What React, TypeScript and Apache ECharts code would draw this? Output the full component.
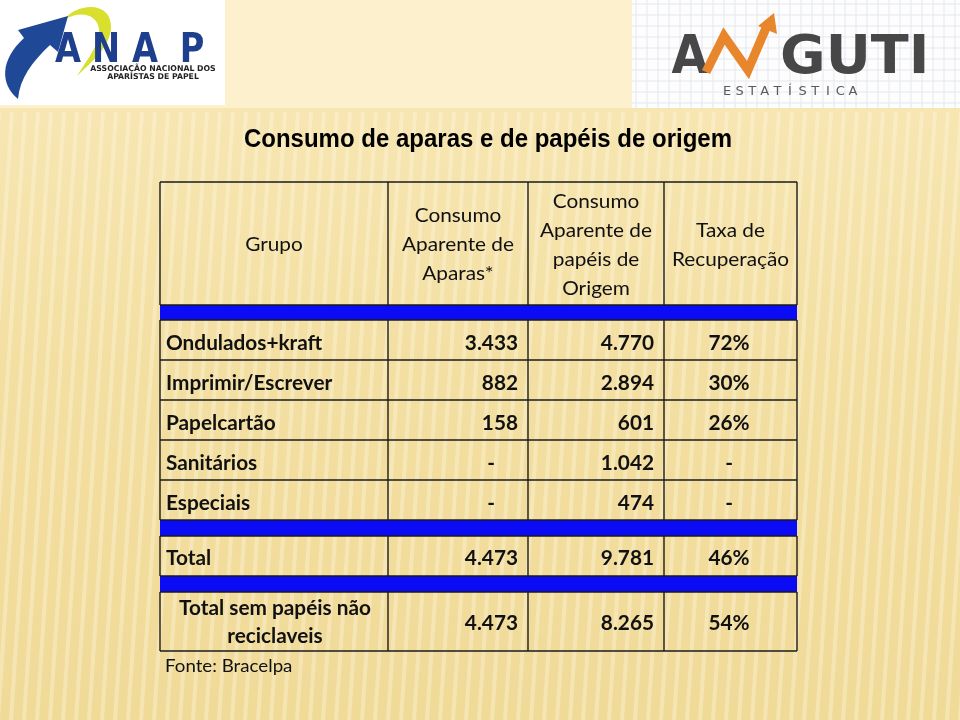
import React, { useEffect, useRef } from "react";
import * as echarts from "echarts";

// ---------- data ----------
const title = "Consumo de aparas e de papéis de origem";
const headers: string[][] = [
  ["Grupo"],
  ["Consumo", "Aparente de", "Aparas*"],
  ["Consumo", "Aparente de", "papéis de", "Origem"],
  ["Taxa de", "Recuperação"],
];
const groups = ["Ondulados+kraft", "Imprimir/Escrever", "Papelcartão", "Sanitários", "Especiais"];
const aparas: (number | null)[] = [3433, 882, 158, null, null];
const origem: (number | null)[] = [4770, 2894, 601, 1042, 474];
const taxa: (number | null)[] = [72, 30, 26, null, null];
const totalLabel = "Total";
const totalValues = [4473, 9781, 46];
const semLabel = ["Total sem papéis não", "reciclaveis"];
const semValues = [4473, 8265, 54];
const source = "Fonte: Bracelpa";
const anapLetters = ["A", "N", "A", "P"];
const anapSub = ["ASSOCIAÇÃO NACIONAL DOS", "APARISTAS DE PAPEL"];
const angutiWord = "GUTI";
const angutiSub = "ESTATÍSTICA";

// ---------- shapes ----------
echarts.graphic.registerShape(
  "anapBlue",
  echarts.graphic.extendPath(
    "M 18 99 C 0 84, 0 60, 24 38 L 18 30 L 68 16 L 58 52 L 50 45 C 32 62, 20 78, 18 99 Z",
    {}
  )
);
echarts.graphic.registerShape(
  "anapYellow",
  echarts.graphic.extendPath(
    "M 64 20 C 76 3, 112 0, 111 28 C 110 46, 93 61, 77 76 C 88 58, 101 43, 99 29 C 97 14, 80 10, 64 20 Z",
    {}
  )
);

const fmt = (n: number | null) =>
  n == null ? "-" : String(n).replace(/\B(?=(\d{3})+(?!\d))/g, ".");

function txt(
  text: string,
  x: number,
  y: number,
  font: string,
  align: string,
  fill = "#111",
  scaleX = 1
) {
  return {
    type: "text",
    x,
    y,
    scaleX,
    silent: true,
    style: {
      text,
      x: 0,
      y: 0,
      font,
      fill,
      align,
      textAlign: align,
      verticalAlign: "middle",
      textVerticalAlign: "middle",
    },
  };
}

function ln(x1: number, y1: number, x2: number, y2: number, stroke = "#1a1a1a", w = 1.4) {
  return {
    type: "line",
    silent: true,
    shape: { x1, y1, x2, y2 },
    style: { stroke, lineWidth: w },
  };
}

function buildElements() {
  const els: any[] = [];
  // background
  els.push({
    type: "rect",
    shape: { x: 0, y: 0, width: 960, height: 720 },
    style: {
      fill: new echarts.graphic.LinearGradient(0, 0, 0, 1, [
        { offset: 0, color: "#fbefca" },
        { offset: 0.15, color: "#f7e6b2" },
        { offset: 0.5, color: "#f3dfa2" },
        { offset: 1, color: "#f0da98" },
      ]),
    },
    silent: true,
  });
  // stripes
  for (let x = -80; x < 1000; x += 13) {
    els.push({
      type: "line",
      silent: true,
      shape: { x1: x + 40, y1: 112, x2: x, y2: 720 },
      style: { stroke: "rgba(255,250,230,0.35)", lineWidth: 4 },
    });
  }
  // top band
  els.push({
    type: "rect",
    silent: true,
    shape: { x: 0, y: 0, width: 960, height: 108 },
    style: { fill: "#fcf0cd" },
  });
  // orange rule
  els.push({
    type: "line",
    silent: true,
    shape: { x1: 40, y1: 110, x2: 960, y2: 110 },
    style: {
      stroke: new echarts.graphic.LinearGradient(0, 0, 1, 0, [
        { offset: 0, color: "rgba(232,160,60,0)" },
        { offset: 0.15, color: "rgba(232,160,60,0.9)" },
        { offset: 1, color: "#e6a13c" },
      ]),
      lineWidth: 2.5,
    },
  });

  // ANAP logo
  els.push({
    type: "rect",
    silent: true,
    shape: { x: 0, y: 0, width: 225, height: 105 },
    style: { fill: "#ffffff" },
  });
  els.push({ type: "anapYellow", silent: true, style: { fill: "#d8df2c" } });
  els.push({ type: "anapBlue", silent: true, style: { fill: "#1f4896" } });
  const anapX = [68, 106, 145, 192];
  anapLetters.forEach((l, i) =>
    els.push(txt(l, anapX[i], 48, "bold 40px 'DejaVu Sans'", "center", "#1e3f8e", 0.84))
  );
  els.push(txt(anapSub[0], 153, 68.5, "bold 8px 'DejaVu Sans'", "center", "#222", 0.97));
  els.push(txt(anapSub[1], 153, 76, "bold 8px 'DejaVu Sans'", "center", "#222", 0.97));

  // ANGUTI logo
  els.push({
    type: "rect",
    silent: true,
    shape: { x: 632, y: 0, width: 328, height: 108 },
    style: { fill: "#fdfdfe" },
  });
  for (let gx = 636; gx < 960; gx += 11) els.push(ln(gx, 0, gx, 108, "#e4e7ef", 1));
  for (let gy = 4; gy < 108; gy += 11) els.push(ln(632, gy, 960, gy, "#e4e7ef", 1));
  els.push(txt("A", 690, 54, "bold 54px 'DejaVu Sans'", "center", "#474747", 0.88));
  els.push({
    type: "polyline",
    silent: true,
    shape: { points: [[706, 72], [724, 36], [748, 70], [766, 28]] },
    style: { stroke: "#e8862b", lineWidth: 9, lineJoin: "miter", fill: "none" },
  });
  els.push({
    type: "polygon",
    silent: true,
    shape: { points: [[758, 26], [774, 13], [777, 34]] },
    style: { fill: "#e8862b" },
  });
  els.push(txt(angutiWord, 780, 54, "bold 54px 'DejaVu Sans'", "left", "#474747", 1.03));
  angutiSub.split("").forEach((c, i) =>
    els.push(txt(c, 727 + i * 12.6, 90, "13px 'DejaVu Sans'", "center", "#5a5a5a"))
  );

  // title
  els.push(txt(title, 488, 138, "bold 25px 'Liberation Sans'", "center", "#000", 0.96));

  // table geometry
  const X = [160, 388, 528, 664, 797];
  const headTop = 182, headBot = 305;
  const rowTop = 320, rowH = 40;
  const band2 = rowTop + rowH * groups.length; // 520
  const totTop = band2 + 16, totBot = totTop + 40;
  const semTop = totBot + 16, semBot = 651;
  const blue = "#0b0bf5";

  [[headBot, rowTop], [band2, totTop], [totBot, semTop]].forEach(([a, b]) =>
    els.push({
      type: "rect",
      silent: true,
      shape: { x: X[0], y: a, width: X[4] - X[0], height: b - a },
      style: { fill: blue },
    })
  );
  // horizontal lines
  const hy = [headTop, headBot, rowTop];
  for (let i = 1; i <= groups.length; i++) hy.push(rowTop + i * rowH);
  hy.push(totTop, totBot, semTop, semBot);
  hy.forEach((y) => els.push(ln(X[0], y, X[4], y)));
  // vertical lines by block
  const blocks = [[headTop, headBot], [rowTop, band2], [totTop, totBot], [semTop, semBot]];
  blocks.forEach(([a, b]) => X.forEach((x) => els.push(ln(x, a, x, b))));

  // header text
  const hf = "20px Lato";
  const lh = 29;
  headers.forEach((lines, c) => {
    const cx = (X[c] + X[c + 1]) / 2;
    const cy = (headTop + headBot) / 2;
    lines.forEach((t, k) => {
      const y = cy + (k - (lines.length - 1) / 2) * lh;
      els.push(txt(t, cx, y, hf, "center", "#111", 1.04));
    });
  });

  // body
  const bf = "bold 20px Lato";
  const sx = 1.04;
  const col2R = 518, col3R = 654, col4C = 729, dash2 = 491;
  const cell2 = (v: number | null, y: number) =>
    v == null ? txt("-", dash2, y, bf, "center", "#111", sx) : txt(fmt(v), col2R, y, bf, "right", "#111", sx);
  groups.forEach((g, i) => {
    const y = rowTop + i * rowH + rowH / 2 + 2;
    els.push(txt(g, 166, y, bf, "left", "#111", sx));
    els.push(cell2(aparas[i], y));
    els.push(txt(fmt(origem[i]), col3R, y, bf, "right", "#111", sx));
    els.push(txt(taxa[i] == null ? "-" : taxa[i] + "%", col4C, y, bf, "center", "#111", sx));
  });
  const ty = (totTop + totBot) / 2 + 1;
  els.push(txt(totalLabel, 166, ty, bf, "left", "#111", sx));
  els.push(txt(fmt(totalValues[0]), col2R, ty, bf, "right", "#111", sx));
  els.push(txt(fmt(totalValues[1]), col3R, ty, bf, "right", "#111", sx));
  els.push(txt(totalValues[2] + "%", col4C, ty, bf, "center", "#111", sx));

  const sy = (semTop + semBot) / 2;
  els.push(txt(semLabel[0], 275, sy - 14, bf, "center", "#111", sx));
  els.push(txt(semLabel[1], 275, sy + 14, bf, "center", "#111", sx));
  els.push(txt(fmt(semValues[0]), col2R, sy + 1, bf, "right", "#111", sx));
  els.push(txt(fmt(semValues[1]), col3R, sy + 1, bf, "right", "#111", sx));
  els.push(txt(semValues[2] + "%", col4C, sy + 1, bf, "center", "#111", sx));

  els.push(txt(source, 165, 665, "18px Lato", "left", "#111", 1.04));
  return els;
}

export default function App() {
  const ref = useRef<HTMLDivElement>(null);
  useEffect(() => {
    if (!ref.current) return;
    const chart = echarts.init(ref.current, undefined, { renderer: "svg" });
    chart.setOption({
      animation: false,
      graphic: { elements: buildElements() },
    });
    return () => chart.dispose();
  }, []);
  return (
    <div
      ref={ref}
      style={{ position: "fixed", left: 0, top: 0, width: 960, height: 720 }}
    />
  );
}
